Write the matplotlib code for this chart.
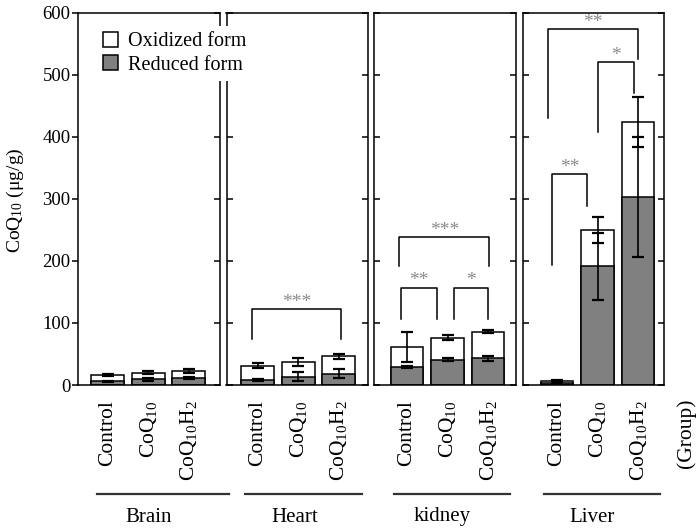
import numpy as np
import matplotlib
matplotlib.use('Agg')
import matplotlib.pyplot as plt
from matplotlib.patches import Patch
from matplotlib.lines import Line2D, TICKLEFT

plt.rcParams.update({
    'font.family': 'Liberation Serif',
    'mathtext.fontset': 'custom',
    'mathtext.rm': 'Liberation Serif',
    'mathtext.it': 'Liberation Serif:italic',
    'axes.linewidth': 1.1,
})

groups = ['Brain', 'Heart', 'kidney', 'Liver']
treatments = ['Control', 'CoQ$_{10}$', 'CoQ$_{10}$H$_2$']

# total CoQ10 (oxidized + reduced) and the reduced part, ug/g
total = {
    'Brain':  [16, 20, 22],
    'Heart':  [31, 37, 46],
    'kidney': [61, 76, 86],
    'Liver':  [6, 250, 424],
}
reduced = {
    'Brain':  [6, 9, 11],
    'Heart':  [8, 13.5, 18],
    'kidney': [29, 41, 43],
    'Liver':  [4, 191, 303],
}
total_err = {
    'Brain':  [1.5, 2, 3],
    'Heart':  [4, 7, 4.5],
    'kidney': [24.5, 4, 2],
    'Liver':  [1.5, 21, 40],
}
reduced_err = {
    'Brain':  [1, 2, 1.5],
    'Heart':  [2, 7, 7],
    'kidney': [2, 2, 4],
    'Liver':  [1, 54, 96],
}

# significance brackets: (group, x_left, x_right, top, left leg end, right leg end, label)
brackets = [
    ('Heart',  -0.14, 2.06, 122, 74, 74, '***'),
    ('kidney', -0.19, 2.03, 238, 192, 192, '***'),
    ('kidney', -0.15, 0.73, 157, 107, 107, '**'),
    ('kidney', 1.15, 2.00, 157, 107, 107, '*'),
    ('Liver',  -0.21, 2.00, 573, 430, 525, '**'),
    ('Liver',  1.02, 1.90, 521, 408, 471, '*'),
    ('Liver',  -0.12, 0.75, 340, 193, 289, '**'),
]

W, H = 697, 531
fig = plt.figure(figsize=(W / 100, H / 100), dpi=100)

# panel edges in pixels and x-limits for each organ
panel_px = [(78, 219.5), (226.5, 368.3), (374, 516), (522.5, 664)]
xlims = [(-0.73, 2.76), (-0.765, 2.73), (-0.815, 2.69), (-0.85, 2.64)]
y_bot, y_top = 385, 12.7

red_color = '#808080'
axes = []
for i, g in enumerate(groups):
    x0, x1 = panel_px[i]
    ax = fig.add_axes([x0 / W, 1 - y_bot / H, (x1 - x0) / W, (y_bot - y_top) / H])
    axes.append(ax)
    x = np.arange(3)
    t = np.array(total[g])
    r = np.array(reduced[g])
    ax.bar(x, t, width=0.81, color='white', edgecolor='black', linewidth=1.1, zorder=2)
    ax.bar(x, r, width=0.81, color=red_color, edgecolor='black', linewidth=1.1, zorder=2)
    ax.errorbar(x, t, yerr=total_err[g], fmt='none', ecolor='black',
                elinewidth=1.2, capsize=4.5, capthick=1.6, zorder=3)
    ax.errorbar(x, r, yerr=reduced_err[g], fmt='none', ecolor='black',
                elinewidth=1.2, capsize=4.5, capthick=1.6, zorder=3)
    ax.set_xlim(*xlims[i])
    ax.set_ylim(0, 600)
    ax.set_yticks(np.arange(0, 601, 100))
    ax.set_xticks(x)
    ax.set_xticklabels(treatments, rotation=90, fontsize=15.5)
    ax.tick_params(axis='x', length=0, pad=11)
    ax.tick_params(axis='y', direction='in', length=4.5, width=1.1,
                   left=True, right=True, labelleft=(i == 0),
                   labelsize=13.5, pad=5.3)
    if i == 0:
        # outer left ticks point outward, the rest stay inside
        for tk in ax.yaxis.get_major_ticks():
            tk.tick1line.set_marker(TICKLEFT)

for g, xa, xb, top, yl, yr, lab in brackets:
    ax = axes[groups.index(g)]
    ax.plot([xa, xa, xb, xb], [yl, top, top, yr], color='black', lw=1.1,
            clip_on=False, zorder=4)
    ax.annotate(lab, xy=((xa + xb) / 2, top), xytext=(0, 1.5),
                textcoords='offset points', ha='center', va='baseline',
                fontsize=14, color='#8a8a8a')

# organ underlines and names below the tick labels
line_px = [(96.6, 228.7), (245, 361.6), (394, 510), (543.7, 659.6)]
name_px = [148.6, 294.5, 442, 592.5]
for i, g in enumerate(groups):
    xa, xb = line_px[i]
    fig.add_artist(Line2D([xa / W, xb / W], [1 - 494 / H, 1 - 494 / H],
                          color='#333333', lw=1.6))
    fig.text(name_px[i] / W, 1 - 517 / H, g, ha='center', va='center', fontsize=15)

fig.text(686 / W, 1 - 398 / H, '(Group)', rotation=90, ha='center', va='top', fontsize=15.5)
fig.text(15 / W, 1 - 200 / H, 'CoQ$_{10}$ (μg/g)', rotation=90, ha='center',
         va='center', fontsize=14)

handles = [Patch(facecolor='white', edgecolor='black', linewidth=1.1),
           Patch(facecolor=red_color, edgecolor='black', linewidth=1.1)]
leg = fig.legend(handles, ['Oxidized form', 'Reduced form'], loc='upper left',
                 bbox_to_anchor=(97 / W, 1 - 26 / H), fontsize=14.5, frameon=True,
                 fancybox=False, edgecolor='none', facecolor='white', framealpha=1,
                 handlelength=0.75, handleheight=0.75, handletextpad=0.5,
                 labelspacing=0.2, borderpad=0.3, borderaxespad=0)
leg.set_zorder(10)

fig.savefig('out.png', dpi=100)
